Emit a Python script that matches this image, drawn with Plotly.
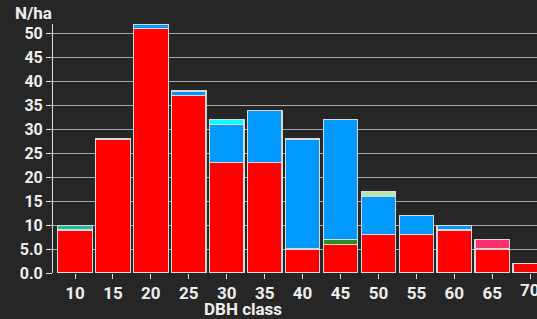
import plotly.graph_objects as go

dbh = [10, 15, 20, 25, 30, 35, 40, 45, 50, 55, 60, 65, 70]
s_red = [9, 28, 51, 37, 23, 23, 5, 6, 8, 8, 9, 5, 2]
s_teal = [1, None, None, None, None, None, None, None, None, None, None, None, None]
s_green = [None, None, None, None, None, None, None, 1, None, None, None, None, None]
s_blue = [None, None, 1, 1, 8, 11, 23, 25, 8, 4, 1, None, None]
s_cyan = [None, None, None, None, 1, None, None, None, None, None, None, None, None]
s_lightgreen = [None, None, None, None, None, None, None, None, 1, None, None, None, None]
s_pink = [None, None, None, None, None, None, None, None, None, None, None, 2, None]

y_tickvals = [0, 5, 10, 15, 20, 25, 30, 35, 40, 45, 50]
y_ticktext = ["0.0", "5.0", "10", "15", "20", "25", "30", "35", "40", "45", "50"]
edge_label = "70"

series = [
    ("red", s_red, "#ff0000"),
    ("teal", s_teal, "#1abc9c"),
    ("green", s_green, "#2e8b22"),
    ("blue", s_blue, "#0099ff"),
    ("cyan", s_cyan, "#00ffff"),
    ("lightgreen", s_lightgreen, "#b8e6b0"),
    ("pink", s_pink, "#ff2d6b"),
]

fig = go.Figure()
for name, vals, col in series:
    fig.add_trace(go.Bar(
        x=dbh, y=vals, name=name, width=4.55,
        marker=dict(color=col, line=dict(color="#d8d8d8", width=1.2)),
    ))

tf = dict(size=17, family="Roboto", color="#eeeeee", weight="bold")

fig.update_layout(
    width=537, height=319,
    barmode="stack",
    showlegend=False,
    paper_bgcolor="#262626",
    plot_bgcolor="#262626",
    margin=dict(l=53, r=0, t=24, b=46, autoexpand=False),
    font=dict(family="Roboto", color="#eeeeee", size=16, weight="bold"),
    xaxis=dict(
        range=[7.1, 70.9], tickvals=dbh, ticks="outside", ticklen=5,
        tickcolor="#dddddd", showgrid=False, zeroline=False,
        showline=False, automargin=False, tickfont=tf,
    ),
    yaxis=dict(
        range=[0, 52], tickvals=y_tickvals, ticktext=y_ticktext,
        ticks="outside", ticklen=6, tickcolor="#dddddd",
        showgrid=True, gridcolor="#aaaaaa", gridwidth=1,
        zeroline=False, showline=True, linecolor="#dddddd", linewidth=1,
        automargin=False,
        tickfont=dict(size=16, family="Roboto", color="#eeeeee", weight="bold"),
    ),
    annotations=[
        dict(text="N/ha", xref="paper", yref="paper", x=-40/484, y=1 + 11/249,
             xanchor="left", yanchor="middle", showarrow=False, font=tf),
        dict(text="DBH class", xref="paper", yref="paper", x=(243 - 53) / 484, y=-36/249,
             xanchor="center", yanchor="middle", showarrow=False, font=tf),
        dict(text=edge_label, xref="x", yref="paper", x=dbh[-1], y=-17/249,
             xanchor="center", yanchor="middle", showarrow=False, font=tf),
    ],
)

fig.write_html(
    "out.html",
    config={"displayModeBar": False},
    post_script="document.body.style.margin='0';document.body.style.background='#262626';",
)
